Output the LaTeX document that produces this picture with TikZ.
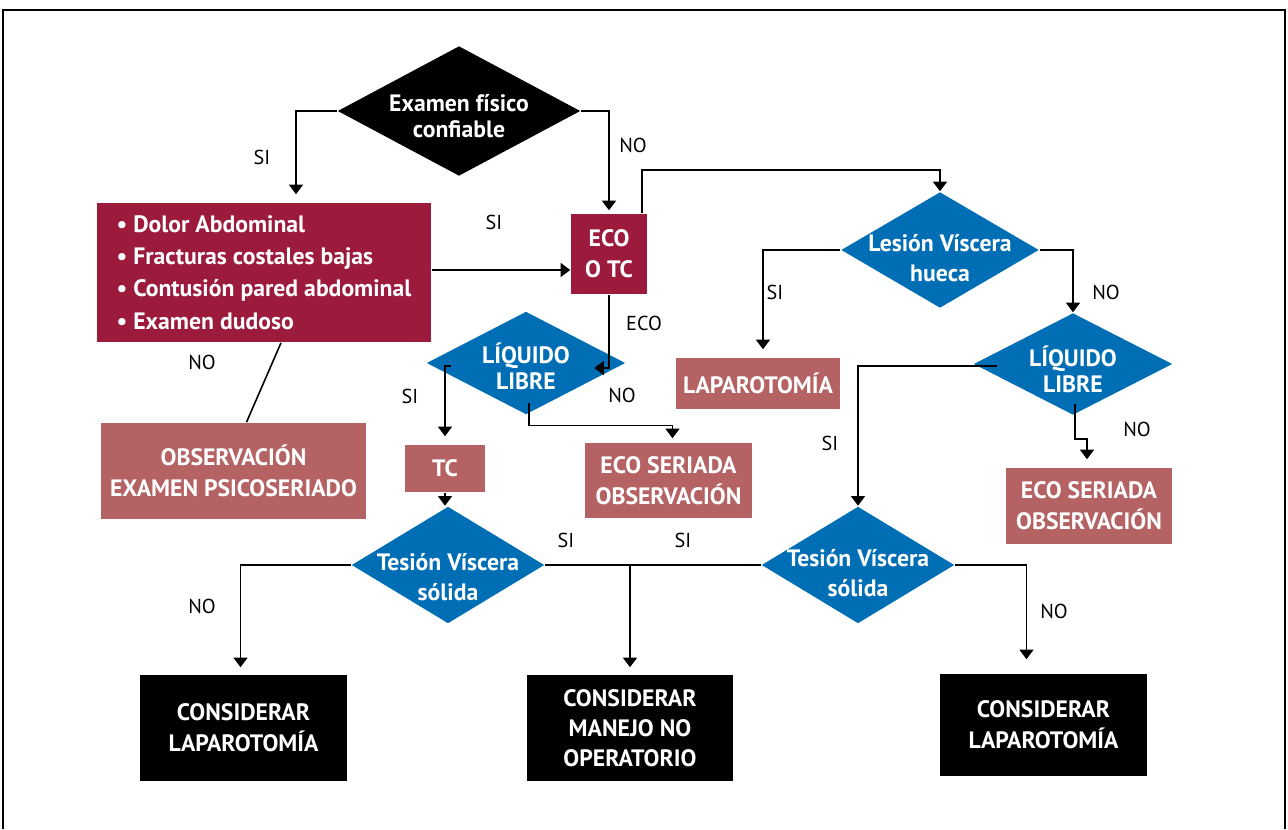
\documentclass[tikz,border=0pt]{standalone}
\usepackage{fontspec}
\setmainfont{PT Sans}
\usetikzlibrary{shapes.geometric,arrows.meta,calc}

\definecolor{boxwine}{HTML}{9C1A3C}
\definecolor{boxrose}{HTML}{B46264}
\definecolor{boxsea}{HTML}{006EB5}

\def\px{0.02cm}

\tikzset{
  wh/.style 2 args={minimum width=#1*\px, minimum height=#2*\px},
  dmd/.style={diamond, fill=#1, inner sep=0pt},
  dtxt/.style={text=white, align=center, font=\bfseries\fontsize{13.5}{#1}\selectfont},
  dtxt/.default=15,
  box/.style={rectangle, fill=#1, inner sep=0pt, text=white, align=center,
    font=\bfseries\fontsize{13.5}{17.6}\selectfont},
  lbl/.style={font=\fontsize{11.5}{13}\selectfont},
  arr/.style={-{Triangle[width=8pt,length=5.5pt]}, shorten >=#1*\px},
  arr/.default=0,
}

\begin{document}
\begin{tikzpicture}[x=0.02cm,y=-0.02cm,line width=0.9pt]

% Page and frame
\useasboundingbox (0,0) rectangle (1288,829);
\draw[line width=1.2pt] (3,829) -- (3,10) -- (1285,10) -- (1285,829);

% Decisions
\node[dmd=black, wh={243}{130}] (exam) at (459,111) {};
\node[dmd=boxsea, wh={198}{116}] (lesion) at (940,250) {};
\node[dmd=boxsea, wh={199}{103}] (liqa) at (526,363) {};
\node[dmd=boxsea, wh={199}{102}] (liqb) at (1073,364) {};
\node[dmd=boxsea, wh={193}{117}] (tesa) at (448,565) {};
\node[dmd=boxsea, wh={193}{117}] (tesb) at (858,565) {};

\node[dtxt] (examtxt) at ($(exam)+(0,5)$) {Examen físico\\confiable};
\node[dtxt=17.5] (lesiontxt) at ($(lesion)+(0,8)$) {Lesión Víscera\\hueca};
\node[dtxt] (liqatxt) at ($(liqa)+(0,3)$) {LÍQUIDO\\LIBRE};
\node[dtxt] (liqbtxt) at ($(liqb)+(0,5)$) {LÍQUIDO\\LIBRE};
\node[dtxt=17.5] (tesatxt) at ($(tesa)+(0,12)$) {Tesión Víscera\\sólida};
\node[dtxt=17.5] (tesbtxt) at ($(tesb)+(0,8)$) {Tesión Víscera\\sólida};

% Boxes
\node[box=boxwine, wh={334}{139}, align=left,
  font=\bfseries\fontsize{13.5}{18.3}\selectfont] (symp) at (264,272.5)
  {• Dolor Abdominal\\• Fracturas costales bajas\\• Contusión pared abdominal\\• Examen dudoso};
\node[box=boxwine, wh={76}{80}] (eco) at (609,254) {ECO\\O TC};
\node[box=boxrose, wh={164}{51}] (lapa) at (758,383.5) {LAPAROTOMÍA};
\node[box=boxrose, wh={265}{96}] (obs) at (233.5,471) {OBSERVACIÓN\\EXAMEN PSICOSERIADO};
\node[box=boxrose, wh={80}{47}] (tc) at (445,468.5) {TC};
\node[box=boxrose, wh={167}{75}] (ecsa) at (668.5,480.5) {ECO SERIADA\\OBSERVACIÓN};
\node[box=boxrose, wh={166}{76}] (ecsb) at (1089,506) {ECO SERIADA\\OBSERVACIÓN};
\node[box=black, wh={207}{106}] (consa) at (243.5,728) {CONSIDERAR\\LAPAROTOMÍA};
\node[box=black, wh={206}{106}, font=\bfseries\fontsize{13.5}{17}\selectfont] (consb) at (630,728) {CONSIDERAR\\MANEJO NO\\OPERATORIO};
\node[box=black, wh={207}{102}] (consc) at (1043.5,725) {CONSIDERAR\\LAPAROTOMÍA};

% Connectors
\draw[arr=8] (exam.west) -| ($(symp.north)+(32,0)$);
\draw[arr=3] (exam.east) -| (eco.north);
\draw[arr] (symp.east |- 0,270) -- (eco.west |- 0,270);
\draw ($(symp.south)+(17,0)$) -- ($(obs.north)+(13,0)$);
\draw[arr] ($(eco.north east)+(-6,0)$) -- ++(0,-43) -| (lesion.north);
\draw[arr] (eco.south) |- ($(liqa.east)+(-32,5)$);
\draw[arr=8] (lesion.west) -| ($(lapa.north)+(5,0)$);
\draw[arr] (lesion.east) -| (liqb.north);
\draw[arr] ($(liqb.west)+(24,2)$) -| (tesb.north);
\draw[arr=8] ($(liqb.south)+(2,-12)$) -- ++(0,35) -| ($(ecsb.north)+(-2,0)$);
\draw[arr=8] ($(liqa.west)+(25,3)$) -| (tc.north);
\draw[arr=4] ($(liqa.south)+(3,-12)$) -- ++(0,22) -| ($(ecsa.north)+(4,0)$);
\draw[arr] (tc.south) -- (tc.south |- tesa.north);
\draw[arr=7] (tesa.west) -| ($(consa.north)+(-3,0)$);
\draw (tesa.east) -- (tesb.west);
\draw[arr=7] (tesa.east -| consb.north) -- (consb.north);
\draw[arr=14] (tesb.east) -| ($(consc.north)+(-17,0)$);

% Branch labels
\node[lbl] (l1) at (262,157) {SI};
\node[lbl] (l2) at (633,145) {NO};
\node[lbl] (l3) at (494,222) {SI};
\node[lbl] (l4) at (202,362) {NO};
\node[lbl] (l5) at (644,323) {ECO};
\node[lbl] (l6) at (410,396) {SI};
\node[lbl] (l7) at (622,395) {NO};
\node[lbl] (l8) at (775,292) {SI};
\node[lbl] (l9) at (1106,292) {NO};
\node[lbl] (l10) at (830,443) {SI};
\node[lbl] (l11) at (1137,429) {NO};
\node[lbl] (l12) at (566,540) {SI};
\node[lbl] (l13) at (683,540) {SI};
\node[lbl] (l14) at (202,606) {NO};
\node[lbl] (l15) at (1054,611) {NO};

\end{tikzpicture}
\end{document}
